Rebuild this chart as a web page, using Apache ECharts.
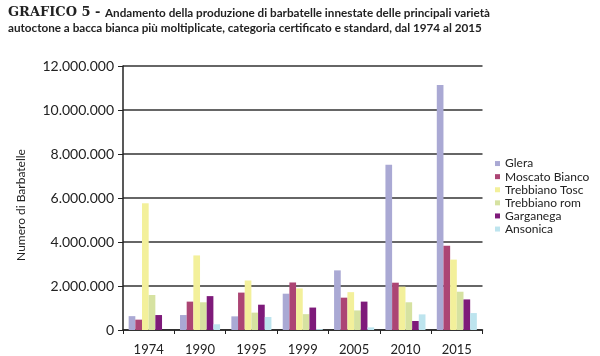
<!DOCTYPE html>
<html><head><meta charset="utf-8">
<script src="https://cdn.jsdelivr.net/npm/echarts@6/dist/echarts.min.js"></script>
<style>html,body{margin:0;padding:0;background:#fff}#c{width:600px;height:356px}</style>
</head><body><div id="c"></div>
<script>
const categories = ['1974','1990','1995','1999','2005','2010','2015'];
const seriesNames = ['Glera','Moscato Bianco','Trebbiano Tosc','Trebbiano rom','Garganega','Ansonica'];
const glera = [630000, 680000, 620000, 1650000, 2710000, 7510000, 11140000];
const moscatoBianco = [470000, 1290000, 1700000, 2160000, 1470000, 2150000, 3830000];
const trebbianoTosc = [5760000, 3390000, 2250000, 1890000, 1720000, 1970000, 3200000];
const trebbianoRom = [1590000, 1260000, 790000, 720000, 890000, 1260000, 1740000];
const garganega = [680000, 1540000, 1150000, 1020000, 1290000, 410000, 1390000];
const ansonica = [0, 260000, 590000, 40000, 120000, 710000, 770000];
const yTicks = [0, 2000000, 4000000, 6000000, 8000000, 10000000, 12000000];
const colors = ['#aaa9d4','#ac4574','#f3f09b','#d6e2a1','#7e1a7a','#bde4ee'];
const values = [glera, moscatoBianco, trebbianoTosc, trebbianoRom, garganega, ansonica];

const fmt = v => String(v).replace(/\B(?=(\d{3})+(?!\d))/g, '.');
const chart = echarts.init(document.getElementById('c'), null, {renderer:'canvas'});
chart.setOption({
  animation: false,
  title: {
    left: 3, top: 0,
    text: '{b|GRAFICO 5 - }{n|Andamento della produzione di barbatelle innestate delle principali varietà}\n{n|autoctone a bacca bianca più moltiplicate, categoria certificato e standard, dal 1974 al 2015}',
    textStyle: {
      rich: {
        b: {fontFamily: 'DejaVu Serif', fontWeight: 'bold', fontSize: 13, color: '#222', lineHeight: 15.5},
        n: {fontFamily: 'Lato', fontSize: 11.7, color: '#222', lineHeight: 15.5}
      }
    }
  },
  legend: {
    orient: 'vertical', left: 490, top: 152,
    itemWidth: 5, itemHeight: 5, itemGap: 0,
    icon: 'rect',
    textStyle: {fontFamily: 'Lato', fontSize: 12, color: '#222', lineHeight: 13.1},
    data: seriesNames
  },
  grid: {left: 123, right: 117.5, top: 66, bottom: 25, containLabel: false},
  xAxis: {
    type: 'category', data: categories,
    axisLine: {lineStyle: {color: '#222', width: 1.5}},
    axisTick: {show: true, length: 4, alignWithLabel: false, lineStyle: {color: '#222'}},
    axisLabel: {fontFamily: 'Lato', fontSize: 13, color: '#222', margin: 13}
  },
  yAxis: {
    type: 'value', min: yTicks[0], max: yTicks[yTicks.length-1], interval: 2000000,
    name: 'Numero di Barbatelle', nameLocation: 'middle', nameGap: 96, nameRotate: 90,
    nameTextStyle: {fontFamily: 'Lato', fontSize: 12, color: '#222', padding: [0, 14, 0, 0]},
    axisLine: {show: true, lineStyle: {color: '#222', width: 1.5}},
    axisTick: {show: true, length: 5, lineStyle: {color: '#222'}},
    splitLine: {lineStyle: {color: '#333', width: 1.5}},
    axisLabel: {fontFamily: 'Lato', fontSize: 14, color: '#222', margin: 9, formatter: v => fmt(v)}
  },
  series: seriesNames.map((n, i) => ({
    name: n, type: 'bar', data: values[i],
    barGap: '0%', barCategoryGap: '22%',
    itemStyle: {color: colors[i]}
  }))
});
</script></body></html>
